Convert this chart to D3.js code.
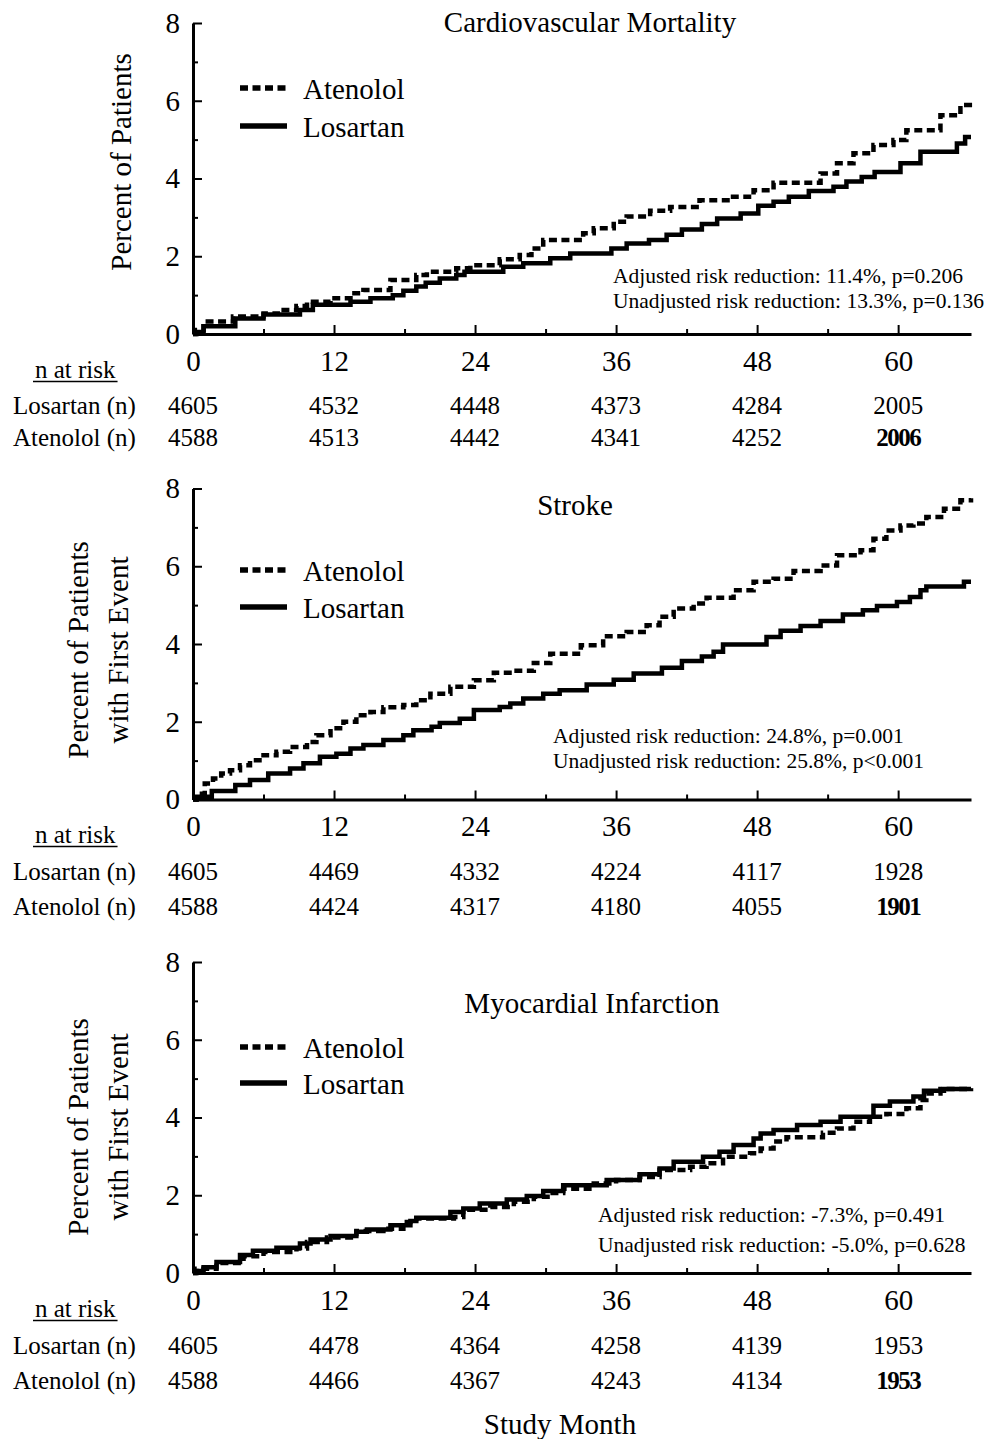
<!DOCTYPE html>
<html>
<head>
<meta charset="utf-8">
<script src="https://cdn.jsdelivr.net/npm/d3@7"></script>
<style>
  html, body { margin: 0; padding: 0; background: #fff; }
  svg { display: block; }
  text { font-family: "Liberation Serif", "Times New Roman", serif; fill: #000; }
</style>
</head>
<body>
<svg id="chart" width="994" height="1439"></svg>
<script>
// ---- Kaplan-Meier curves: step times (study month) and cumulative % of patients ----
const cvLosMonths = [0, 0.2, 0.9, 3.6, 6.0, 9.1, 10.2, 13.4, 15.1, 17.0, 17.9, 19.0, 19.8, 21.0, 22.4, 23.1, 26.4, 28.1, 30.4, 32.1, 35.6, 36.9, 38.8, 40.3, 41.6, 43.3, 44.6, 46.6, 48.1, 49.4, 50.7, 52.4, 54.5, 55.6, 56.9, 58.0, 60.2, 61.9, 65.0, 65.7, 66.2];
const cvLosPct    = [0, 0.05, 0.2, 0.4, 0.5, 0.62, 0.75, 0.83, 0.92, 1.0, 1.11, 1.22, 1.32, 1.43, 1.52, 1.6, 1.73, 1.82, 1.95, 2.07, 2.2, 2.33, 2.42, 2.55, 2.69, 2.83, 2.97, 3.1, 3.3, 3.4, 3.53, 3.68, 3.79, 3.92, 4.04, 4.17, 4.39, 4.69, 4.9, 5.07, 5.07];
const cvAteMonths = [0, 0.3, 0.9, 3.4, 6.0, 7.4, 8.8, 9.7, 11.7, 13.4, 14.5, 16.8, 19.0, 19.9, 22.4, 23.6, 26.1, 27.8, 28.8, 29.8, 33.2, 34.1, 35.8, 36.9, 38.9, 40.6, 43.1, 45.7, 47.7, 49.4, 53.4, 54.8, 56.2, 57.9, 59.6, 60.7, 63.6, 65.3, 66.1];
const cvAtePct    = [0, 0.1, 0.32, 0.45, 0.53, 0.62, 0.72, 0.83, 0.92, 1.05, 1.13, 1.39, 1.52, 1.6, 1.69, 1.77, 1.92, 2.03, 2.2, 2.42, 2.59, 2.72, 2.89, 3.02, 3.17, 3.27, 3.44, 3.53, 3.7, 3.89, 4.13, 4.39, 4.65, 4.86, 4.99, 5.24, 5.63, 5.89, 5.95];

const strokeLosMonths = [0, 0.3, 1.6, 3.6, 4.85, 6.4, 8.26, 9.4, 10.8, 12.2, 13.4, 14.5, 16.2, 17.9, 18.75, 20.3, 21.0, 22.7, 23.9, 26.1, 27.0, 28.1, 29.8, 31.2, 33.5, 35.8, 37.5, 39.9, 41.6, 43.3, 44.3, 45.1, 48.8, 50.0, 51.7, 53.4, 55.3, 57.0, 58.2, 59.9, 61.0, 61.9, 62.4, 65.6, 66.2];
const strokeLosPct    = [0, 0.07, 0.22, 0.37, 0.5, 0.67, 0.8, 0.93, 1.1, 1.18, 1.31, 1.4, 1.53, 1.65, 1.78, 1.87, 1.97, 2.08, 2.3, 2.38, 2.47, 2.6, 2.72, 2.81, 2.96, 3.08, 3.24, 3.39, 3.56, 3.68, 3.8, 3.99, 4.18, 4.34, 4.46, 4.59, 4.76, 4.87, 4.98, 5.08, 5.21, 5.38, 5.48, 5.6, 5.6];
const strokeAteMonths = [0, 0.3, 1.0, 1.7, 2.4, 3.15, 4.0, 4.85, 6.0, 7.1, 8.26, 9.7, 10.5, 11.7, 12.8, 13.9, 15.1, 16.2, 17.9, 19.0, 20.2, 21.9, 23.9, 25.6, 27.3, 29.0, 30.4, 33.0, 34.9, 36.9, 38.6, 39.7, 40.9, 42.6, 43.7, 46.0, 47.7, 49.4, 51.1, 53.4, 54.8, 56.8, 57.9, 59.0, 60.2, 61.3, 62.4, 63.9, 65.3, 66.2];
const strokeAtePct    = [0, 0.15, 0.41, 0.54, 0.67, 0.75, 0.88, 1.01, 1.14, 1.23, 1.35, 1.48, 1.65, 1.83, 2.0, 2.17, 2.25, 2.37, 2.43, 2.55, 2.72, 2.9, 3.07, 3.26, 3.31, 3.51, 3.75, 3.97, 4.2, 4.31, 4.48, 4.7, 4.91, 5.04, 5.19, 5.38, 5.6, 5.68, 5.88, 6.02, 6.28, 6.41, 6.71, 6.92, 7.05, 7.1, 7.27, 7.48, 7.7, 7.75];

const miLosMonths = [0, 0.2, 0.9, 2.0, 4.0, 5.1, 7.1, 9.1, 10.0, 11.7, 13.9, 14.8, 16.8, 18.5, 19.0, 21.9, 23.0, 24.4, 26.7, 28.4, 29.8, 31.5, 35.2, 38.0, 39.7, 40.9, 43.4, 44.8, 46.0, 47.7, 48.3, 49.4, 51.4, 53.4, 55.1, 57.9, 59.3, 61.3, 62.2, 63.9, 66.2];
const miLosPct    = [0, 0.05, 0.15, 0.28, 0.46, 0.57, 0.65, 0.76, 0.86, 0.95, 1.06, 1.12, 1.23, 1.34, 1.42, 1.57, 1.66, 1.79, 1.89, 1.98, 2.11, 2.26, 2.39, 2.54, 2.69, 2.86, 2.99, 3.12, 3.29, 3.46, 3.59, 3.68, 3.81, 3.89, 4.02, 4.3, 4.41, 4.54, 4.69, 4.73, 4.75];
const miAteMonths = [0, 0.3, 2.0, 4.3, 6.0, 8.8, 9.7, 11.4, 13.9, 16.2, 17.9, 19.0, 22.2, 23.0, 25.3, 27.3, 29.0, 30.4, 31.5, 34.1, 36.0, 38.0, 39.7, 42.3, 43.7, 45.1, 47.4, 48.3, 49.4, 50.5, 53.6, 54.8, 56.2, 57.6, 59.0, 60.7, 61.9, 62.4, 63.6, 66.2];
const miAtePct    = [0, 0.11, 0.26, 0.43, 0.54, 0.63, 0.8, 0.91, 1.08, 1.14, 1.31, 1.4, 1.44, 1.63, 1.7, 1.83, 1.96, 2.06, 2.17, 2.3, 2.39, 2.47, 2.65, 2.73, 2.82, 2.99, 3.08, 3.2, 3.38, 3.49, 3.61, 3.72, 3.89, 4.02, 4.09, 4.24, 4.45, 4.62, 4.73, 4.75];

// ---- Numbers at risk ----
const riskMonths = [0, 12, 24, 36, 48, 60];
const cvRiskLos = [4605, 4532, 4448, 4373, 4284, 2005];
const cvRiskAte = [4588, 4513, 4442, 4341, 4252, 2006];
const strokeRiskLos = [4605, 4469, 4332, 4224, 4117, 1928];
const strokeRiskAte = [4588, 4424, 4317, 4180, 4055, 1901];
const miRiskLos = [4605, 4478, 4364, 4258, 4139, 1953];
const miRiskAte = [4588, 4466, 4367, 4243, 4134, 1953];

// ---- Axes ----
const xMajorTicks = [0, 12, 24, 36, 48, 60];
const xMinorTicks = [6, 18, 30, 42, 54];
const yMajorTicks = [0, 2, 4, 6, 8];
const yMinorTicks = [1, 3, 5, 7];
const xMax = 66.2;
const yMax = 8;

// ---- Text ----
const seriesNames = ["Atenolol", "Losartan"];
const panelTitles = ["Cardiovascular Mortality", "Stroke", "Myocardial Infarction"];
const yTitles = [["Percent of Patients"], ["Percent of Patients", "with First Event"], ["Percent of Patients", "with First Event"]];
const riskNotes = [
  ["Adjusted risk reduction: 11.4%, p=0.206", "Unadjusted risk reduction: 13.3%, p=0.136"],
  ["Adjusted risk reduction: 24.8%, p=0.001", "Unadjusted risk reduction: 25.8%, p<0.001"],
  ["Adjusted risk reduction: -7.3%, p=0.491", "Unadjusted risk reduction: -5.0%, p=0.628"]
];
const riskRowLabels = ["Losartan (n)", "Atenolol (n)"];

// ---- Layout of the three stacked panels ----
const panels = [
  { title: panelTitles[0], yTitle: yTitles[0], notes: riskNotes[0],
    los: [cvLosMonths, cvLosPct], ate: [cvAteMonths, cvAtePct], riskLos: cvRiskLos, riskAte: cvRiskAte,
    y0: 334, titleX: 590, titleY: 32, legendY: [88, 126], noteX: 613, noteY: [283, 308],
    yTitleX: [131], yTitleY: 162, narY: 378, losY: 414, ateY: 446 },
  { title: panelTitles[1], yTitle: yTitles[1], notes: riskNotes[1],
    los: [strokeLosMonths, strokeLosPct], ate: [strokeAteMonths, strokeAtePct], riskLos: strokeRiskLos, riskAte: strokeRiskAte,
    y0: 799.5, titleX: 575, titleY: 515, legendY: [570, 607], noteX: 553, noteY: [743, 768],
    yTitleX: [88, 128], yTitleY: 650, narY: 843, losY: 880, ateY: 915 },
  { title: panelTitles[2], yTitle: yTitles[2], notes: riskNotes[2],
    los: [miLosMonths, miLosPct], ate: [miAteMonths, miAtePct], riskLos: miRiskLos, riskAte: miRiskAte,
    y0: 1273, titleX: 592, titleY: 1013, legendY: [1047, 1083], noteX: 598, noteY: [1222, 1252],
    yTitleX: [88, 128], yTitleY: 1127, narY: 1317, losY: 1354, ateY: 1389 }
];

const svg = d3.select("#chart");
svg.append("rect").attr("width", 994).attr("height", 1439).attr("fill", "#fff");

const x = d3.scaleLinear().domain([0, xMax]).range([193, 971]);
const panelHeight = 311;
const dashPattern = "8,4.5";
const curveWidth = 4.5;

function drawPanel(p) {
  const g = svg.append("g");
  const y = d3.scaleLinear().domain([0, yMax]).range([p.y0, p.y0 - panelHeight]);

  // survival-type step curves
  const line = d3.line()
    .x(d => x(d[0]))
    .y(d => y(d[1]))
    .curve(d3.curveStepAfter);
  const los = d3.zip(p.los[0], p.los[1]);
  const ate = d3.zip(p.ate[0], p.ate[1]);
  g.append("path").datum(los).attr("d", line)
    .attr("fill", "none").attr("stroke", "#000").attr("stroke-width", curveWidth);
  g.append("path").datum(ate).attr("d", line)
    .attr("fill", "none").attr("stroke", "#000").attr("stroke-width", curveWidth)
    .attr("stroke-dasharray", dashPattern);

  // y axis: major and minor ticks pointing inward
  const yAxis = g.append("g").attr("transform", `translate(${x(0)},0)`)
    .call(d3.axisLeft(y).tickValues(yMajorTicks).tickSizeInner(-9).tickSizeOuter(0).tickPadding(13).tickFormat(d3.format("d")));
  g.append("g").attr("transform", `translate(${x(0)},0)`)
    .call(d3.axisLeft(y).tickValues(yMinorTicks).tickSizeInner(-5).tickSizeOuter(0).tickFormat(""))
    .select(".domain").remove();

  // x axis: major and minor ticks pointing up
  const xAxis = g.append("g").attr("transform", `translate(0,${p.y0})`)
    .call(d3.axisBottom(x).tickValues(xMajorTicks).tickSizeInner(-9).tickSizeOuter(0).tickPadding(16).tickFormat(d3.format("d")));
  g.append("g").attr("transform", `translate(0,${p.y0})`)
    .call(d3.axisBottom(x).tickValues(xMinorTicks).tickSizeInner(-5).tickSizeOuter(0).tickFormat(""))
    .select(".domain").remove();

  g.selectAll(".domain").attr("stroke", "#000").attr("stroke-width", 3);
  g.selectAll(".tick line").attr("stroke", "#000").attr("stroke-width", 2);
  g.selectAll(".tick text").attr("font-family", "Liberation Serif").attr("font-size", 29).attr("fill", "#000");

  // title
  g.append("text").attr("x", p.titleX).attr("y", p.titleY)
    .attr("text-anchor", "middle").attr("font-size", 29).text(p.title);

  // y axis title (one or two lines)
  p.yTitle.forEach((t, i) => {
    g.append("text")
      .attr("transform", `translate(${p.yTitleX[i]},${p.yTitleY}) rotate(-90)`)
      .attr("text-anchor", "middle").attr("font-size", 29).text(t);
  });

  // legend
  const legend = [
    { name: seriesNames[0], dash: dashPattern, y: p.legendY[0] },
    { name: seriesNames[1], dash: null, y: p.legendY[1] }
  ];
  legend.forEach(l => {
    g.append("line").attr("x1", 240).attr("x2", 287).attr("y1", l.y).attr("y2", l.y)
      .attr("stroke", "#000").attr("stroke-width", 5.5)
      .attr("stroke-dasharray", l.dash);
    g.append("text").attr("x", 303).attr("y", l.y + 10.5)
      .attr("font-size", 29).text(l.name);
  });

  // risk reduction notes
  p.notes.forEach((t, i) => {
    g.append("text").attr("x", p.noteX).attr("y", p.noteY[i])
      .attr("font-size", 21.5).text(t);
  });

  // numbers at risk
  const nar = g.append("text").attr("x", 35).attr("y", p.narY)
    .attr("font-size", 25).text("n at risk");
  const narLen = nar.node().getComputedTextLength();
  g.append("line").attr("x1", 33).attr("x2", 35 + narLen + 2)
    .attr("y1", p.narY + 3.5).attr("y2", p.narY + 3.5)
    .attr("stroke", "#000").attr("stroke-width", 1.5);

  [[riskRowLabels[0], p.riskLos, p.losY], [riskRowLabels[1], p.riskAte, p.ateY]].forEach(([label, vals, yy], row) => {
    g.append("text").attr("x", 13).attr("y", yy).attr("font-size", 25).text(label);
    g.selectAll(null).data(vals).enter().append("text")
      .attr("x", (d, i) => x(riskMonths[i]))
      .attr("y", yy)
      .attr("text-anchor", "middle")
      .attr("font-size", 25)
      .attr("font-weight", (d, i) => (row === 1 && i === vals.length - 1) ? "bold" : "normal")
      .attr("letter-spacing", (d, i) => (row === 1 && i === vals.length - 1) ? -1.5 : 0)
      .text(d => d);
  });
}

panels.forEach(drawPanel);

svg.append("text").attr("x", 560).attr("y", 1434)
  .attr("text-anchor", "middle").attr("font-size", 29).text("Study Month");
</script>
</body>
</html>
